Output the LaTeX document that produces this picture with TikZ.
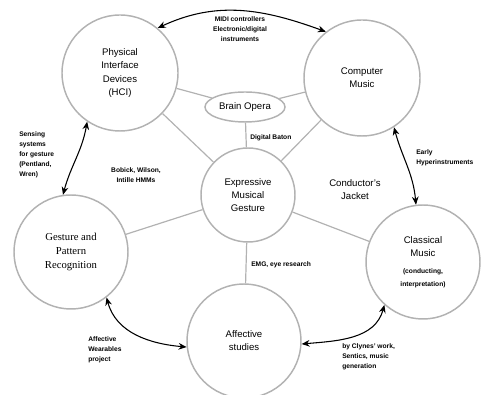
\documentclass[tikz,border=0pt]{standalone}
\usepackage{fontspec}
\setmainfont{Liberation Sans}
\newfontfamily\serifface{Liberation Serif}
\usetikzlibrary{shapes.geometric,arrows.meta}

\newcommand{\tinybold}{\fontsize{5}{6.5}\selectfont\bfseries}

\tikzset{
    topic/.style={circle, draw=gray!60, line width=1.1pt, align=center,
        inner sep=0pt, font=\fontsize{7.2}{9.8}\selectfont},
    link/.style={draw=gray!60, line width=0.9pt},
    twoway/.style={{Stealth[length=6pt,width=5pt]}-{Stealth[length=6pt,width=5pt]},
        line width=0.8pt, black},
    note/.style={align=left, inner sep=0pt,
        font=\fontsize{5}{7.5}\selectfont\bfseries},
}

\begin{document}
\begin{tikzpicture}[x=0.75pt, y=0.75pt]
        \useasboundingbox (0,0) rectangle (485,395);

        % the six fields
        \node[topic, minimum size=87pt] (hci) at (120,322)
            {Physical\\Interface\\Devices\\(HCI)};
        \node[topic, minimum size=87pt] (cm) at (362,317)
            {Computer\\Music};
        \node[topic, minimum size=70.5pt] (emg) at (248,200)
            {Expressive\\Musical\\Gesture};
        \node[topic, minimum size=85.5pt, font=\fontsize{8}{10.5}\selectfont\serifface] (gpr) at (71,143)
            {Gesture and\\Pattern\\Recognition};
        \node[topic, minimum size=85.5pt] (cl) at (423,133)
            {Classical\\Music\\[3pt]\tinybold (conducting,\\\tinybold interpretation)};
        \node[topic, minimum size=85.5pt] (aff) at (244,54)
            {Affective\\studies};
        \node[ellipse, draw=gray!60, line width=1.1pt, minimum width=60pt,
            minimum height=22.5pt, inner sep=0pt, font=\fontsize{7.2}{9.8}\selectfont] (bo) at (245,288)
            {Brain Opera};

        % plain links
        \foreach \from/\to in {hci/emg, cm/emg, bo/hci, bo/cm, bo/emg,
                               emg/gpr, emg/cl, emg/aff} {
            \draw[link] (\from) -- (\to);
        }

        % two-way arrows
        \draw[twoway] (hci.50) to[out=25, in=160] (cm.128);
        \draw[twoway] (cm.-57) to[out=-75, in=95] (cl.97);
        \draw[twoway] (hci.-124) to[out=-100, in=75] (gpr.98);
        \draw[twoway] (gpr.-52) to[out=-75, in=175] (aff.186);
        \draw[twoway] (cl.-132) to[out=-105, in=5] (aff.-3);

        % labels
        \node[note, align=center] (midi) at (240,366)
            {MIDI controllers\\Electronic/digital\\instruments};
        \node[note, anchor=west] (baton) at (250,257) {Digital Baton};
        \node[note, align=center] (hmm) at (136,220) {Bobick, Wilson,\\Intille HMMs};
        \node[align=center, font=\fontsize{7.2}{9.8}\selectfont] (jacket) at (355,205)
            {Conductor's\\Jacket};
        \node[note, anchor=west] (sensing) at (19,240)
            {Sensing\\systems\\for gesture\\(Pentland,\\Wren)};
        \node[note, anchor=west] (hyper) at (416,237) {Early\\Hyperinstruments};
        \node[note, anchor=west] (research) at (251,130) {EMG, eye research};
        \node[note, anchor=west] (wear) at (88,45) {Affective\\Wearables\\project};
        \node[note, anchor=west] (clynes) at (342,38)
            {by Clynes' work,\\Sentics, music\\generation};
    \end{tikzpicture}
\end{document}
